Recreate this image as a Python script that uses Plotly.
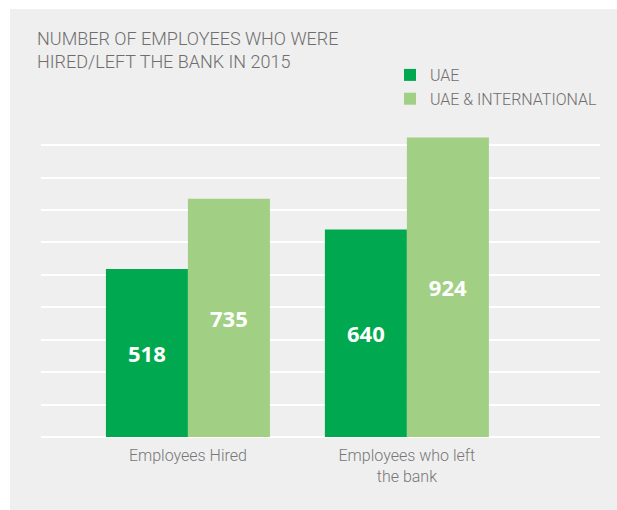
import plotly.graph_objects as go

categories = ["Employees Hired", "Employees who left<br>the bank"]
uae = [518, 640]
uae_intl = [735, 924]
series_names = ["UAE", "UAE & INTERNATIONAL"]
title_text = "NUMBER OF EMPLOYEES WHO WERE<br>HIRED/LEFT THE BANK IN 2015"

DARK = "#00A94F"
LIGHT = "#A1D085"
PANEL = "#EFEFEF"
TEXT = "#6E6E6E"

W, H = 617, 510
L, R, T, B = 41, 17, 129, 73
pw = W - L - R
ph = H - T - B

def px2x(px):
    return (px - L) / pw

def py2y(py):
    return (H - B - py) / ph

fig = go.Figure()
for name, vals, col in [(series_names[0], uae, DARK), (series_names[1], uae_intl, LIGHT)]:
    fig.add_trace(go.Bar(
        name=name, x=categories, y=vals,
        marker=dict(color=col, line=dict(width=0)),
        text=[str(v) for v in vals],
        textposition="inside", insidetextanchor="middle",
        textfont=dict(family="Open Sans", size=22, color="white", weight="bold"),
        hoverinfo="skip",
    ))

fig.add_shape(type="rect", xref="paper", yref="paper",
              x0=px2x(10), x1=px2x(620), y0=py2y(513), y1=py2y(9),
              fillcolor=PANEL, line=dict(width=0), layer="below")

fig.update_layout(
    width=W, height=H,
    margin=dict(l=L, r=R, t=T, b=B, autoexpand=False),
    paper_bgcolor="white", plot_bgcolor=PANEL,
    barmode="group", bargap=0.251, bargroupgap=0,
    title=dict(text=title_text, xref="container", yref="container",
               x=37 / W, xanchor="left", y=1 - 45 / H, yanchor="top",
               font=dict(family="Roboto", size=18, color=TEXT, weight=300)),
    legend=dict(xref="paper", yref="paper", x=px2x(390), xanchor="left",
                y=py2y(58), yanchor="top", bgcolor="rgba(0,0,0,0)",
                font=dict(family="Roboto", size=16, color=TEXT, weight=300),
                tracegroupgap=0),
    showlegend=True,
    xaxis=dict(range=[-0.671, 1.882], showgrid=False, zeroline=False,
               showline=False, ticks="outside", ticklen=4, tickcolor="rgba(0,0,0,0)",
               tickfont=dict(family="Roboto", size=16, color="#777777", weight=300)),
    yaxis=dict(range=[0, 950], dtick=100, showticklabels=False, showgrid=True,
               gridcolor="white", gridwidth=2, zeroline=True, zerolinecolor="white",
               zerolinewidth=2, showline=False, fixedrange=True),
)

fig.write_html("out.html")
